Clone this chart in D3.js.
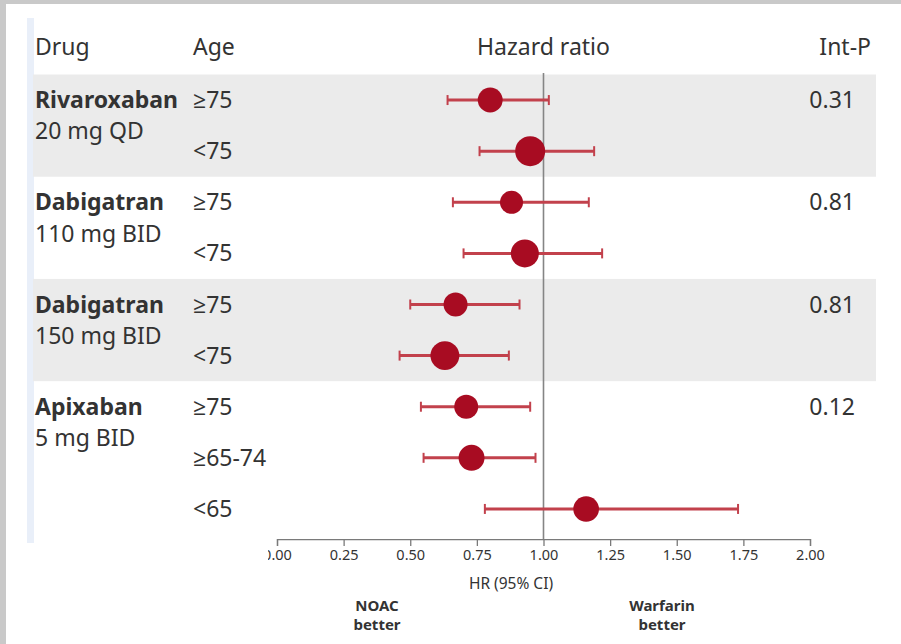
<!DOCTYPE html>
<html>
<head>
<meta charset="utf-8">
<script src="https://cdn.jsdelivr.net/npm/d3@7"></script>
<style>
  html, body { margin: 0; padding: 0; background: #c9c9c9; }
  svg { display: block; }
  text { font-family: "Noto Sans", "Open Sans", sans-serif; fill: #333; }
</style>
</head>
<body>
<svg id="chart" width="901" height="644"></svg>
<script>
// Subgroup results by age: stroke / systemic embolism, NOAC vs warfarin
const drugs = ["Rivaroxaban", "Dabigatran", "Dabigatran", "Apixaban"];
const doses = ["20 mg QD", "110 mg BID", "150 mg BID", "5 mg BID"];
const interactionP = ["0.31", "0.81", "0.81", "0.12"];
const groupSizes = [2, 2, 2, 3];

const ageGroups = ["≥75", "<75", "≥75", "<75", "≥75", "<75", "≥75", "≥65-74", "<65"];
const hazardRatio = [0.80, 0.95, 0.88, 0.93, 0.67, 0.63, 0.71, 0.73, 1.16];
const ciLower = [0.64, 0.76, 0.66, 0.70, 0.50, 0.46, 0.54, 0.55, 0.78];
const ciUpper = [1.02, 1.19, 1.17, 1.22, 0.91, 0.87, 0.95, 0.97, 1.73];
const weights = [69, 100, 59, 87, 64, 93, 64, 75, 73];

const xTickValues = [0, 0.25, 0.5, 0.75, 1, 1.25, 1.5, 1.75, 2];
const headers = { drug: "Drug", age: "Age", hr: "Hazard ratio", p: "Int-P" };
const axisTitle = "HR (95% CI)";
const favourLeft = ["NOAC", "better"];
const favourRight = ["Warfarin", "better"];

const W = 901, H = 644;
const svg = d3.select("#chart");

// page panel
svg.append("rect").attr("x", 6).attr("y", 4).attr("width", W - 6).attr("height", H - 4).attr("fill", "#fff");
svg.append("rect").attr("x", 27).attr("y", 18).attr("width", 7).attr("height", 525).attr("fill", "#e9eff9");

const x = d3.scaleLinear().domain([0, 2]).range([277, 810]);
const nRows = ageGroups.length;
const y = d3.scaleBand().domain(d3.range(nRows)).range([74.5, 534.5]).paddingInner(0).paddingOuter(0);
const r = d3.scaleSqrt().domain([0, 100]).range([0, 15]);

// group bookkeeping
let start = 0;
const groups = groupSizes.map((n, i) => {
  const g = { i, first: start, last: start + n - 1 };
  start += n;
  return g;
});

// alternating bands
svg.append("g").selectAll("rect").data(groups.filter(g => g.i % 2 === 0)).join("rect")
  .attr("x", 33).attr("width", 876 - 33)
  .attr("y", g => y(g.first))
  .attr("height", g => y(g.last) + y.bandwidth() - y(g.first))
  .attr("fill", "#ebebeb");

// headers
const hy = 55;
const head = svg.append("g").attr("font-size", 23);
head.append("text").attr("x", 35).attr("y", hy).text(headers.drug);
head.append("text").attr("x", 193).attr("y", hy).text(headers.age);
head.append("text").attr("x", x(1)).attr("y", hy).attr("text-anchor", "middle").text(headers.hr);
head.append("text").attr("x", 871).attr("y", hy).attr("text-anchor", "end").text(headers.p);

const rowMid = i => y(i) + y.bandwidth() / 2;

// drug names, doses and interaction p-values
const lab = svg.append("g").attr("font-size", 23);
groups.forEach(g => {
  const t = lab.append("text").attr("x", 35).attr("y", rowMid(g.first)).attr("dy", "0.35em");
  t.append("tspan").attr("font-weight", "bold").text(drugs[g.i]);
  t.append("tspan").attr("x", 35).attr("dy", "1.36em").text(doses[g.i]);
  lab.append("text").attr("x", 855).attr("y", rowMid(g.first)).attr("dy", "0.35em")
    .attr("text-anchor", "end").text(interactionP[g.i]);
});

// age labels
lab.selectAll("text.age").data(ageGroups).join("text").attr("class", "age")
  .attr("x", 193).attr("y", (d, i) => rowMid(i)).attr("dy", "0.35em").text(d => d);

// line of no effect
svg.append("line").attr("x1", x(1)).attr("x2", x(1)).attr("y1", 73).attr("y2", 539)
  .attr("stroke", "#858585").attr("stroke-width", 1.6);

// axis
const axisG = svg.append("g").attr("transform", "translate(0,539)");
svg.append("clipPath").attr("id", "axclip").append("rect").attr("x", 268).attr("y", 0).attr("width", 620).attr("height", 40);
axisG.attr("clip-path", "url(#axclip)");
axisG.call(d3.axisBottom(x).tickValues(xTickValues).tickFormat(d3.format(".2f")).tickSize(7).tickSizeOuter(7).tickPadding(4));
axisG.select(".domain").attr("stroke", "#7a7a7a").attr("stroke-width", 1.3);
axisG.selectAll(".tick line").attr("stroke", "#7a7a7a").attr("stroke-width", 1.3);
axisG.selectAll(".tick text").attr("font-size", 14.5).attr("fill", "#333")
  .attr("font-family", "'Noto Sans', sans-serif");

svg.append("text").attr("x", 511).attr("y", 589).attr("text-anchor", "middle").attr("font-size", 15.5).text(axisTitle);

const fav = svg.append("g").attr("font-size", 15).attr("font-weight", "bold").attr("text-anchor", "middle");
[[377, favourLeft], [662, favourRight]].forEach(([cx, lines]) => {
  lines.forEach((s, k) => fav.append("text").attr("x", cx).attr("y", 611 + k * 19).text(s));
});

// estimates with confidence intervals
const rows = d3.range(nRows);
const est = svg.append("g");
const barColor = "#c2414c";
est.selectAll("line.ci").data(rows).join("line").attr("class", "ci")
  .attr("x1", i => x(ciLower[i])).attr("x2", i => x(ciUpper[i]))
  .attr("y1", rowMid).attr("y2", rowMid)
  .attr("stroke", barColor).attr("stroke-width", 3);
["lo", "hi"].forEach(side => {
  est.selectAll("line.cap" + side).data(rows).join("line").attr("class", "cap" + side)
    .attr("x1", i => x(side === "lo" ? ciLower[i] : ciUpper[i]))
    .attr("x2", i => x(side === "lo" ? ciLower[i] : ciUpper[i]))
    .attr("y1", i => rowMid(i) - 5).attr("y2", i => rowMid(i) + 5)
    .attr("stroke", barColor).attr("stroke-width", 2);
});
est.selectAll("circle").data(rows).join("circle")
  .attr("cx", i => x(hazardRatio[i])).attr("cy", rowMid).attr("r", i => r(weights[i]))
  .attr("fill", "#a80c22");
</script>
</body>
</html>
